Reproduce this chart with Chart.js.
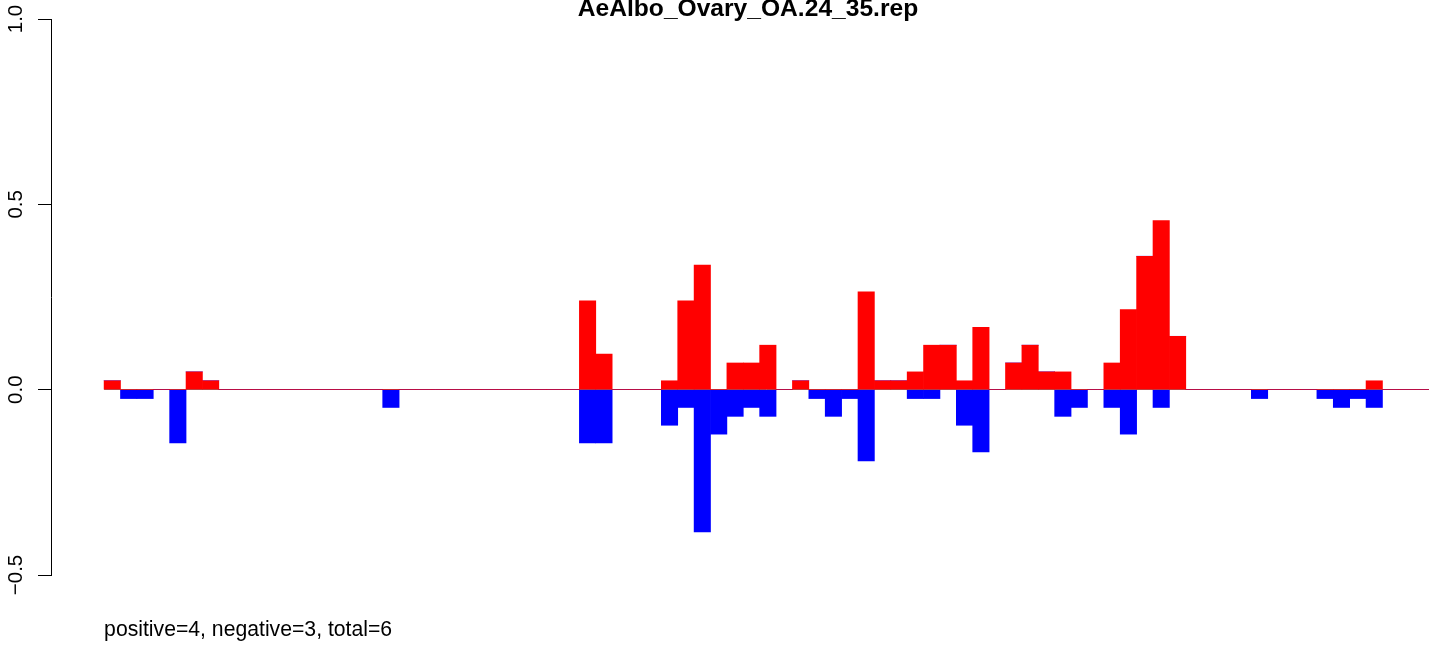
<!DOCTYPE html>
<html lang="en">
<head>
<meta charset="UTF-8">
<title>AeAlbo_Ovary_OA.24_35.rep</title>
<script src="https://cdn.jsdelivr.net/npm/chart.js"></script>
<style>
  html, body { margin: 0; padding: 0; background: #fff; overflow: hidden; }
  #wrap { position: relative; width: 1429px; height: 645px; }
</style>
</head>
<body>
<div id="wrap"><canvas id="chart"></canvas></div>
<script>
// chart text
const titleText = 'AeAlbo_Ovary_OA.24_35.rep';
const footText = 'positive=4, negative=3, total=6';
const yTicks = [-0.5, 0, 0.5, 1.0];
const yTickLabels = ['\u22120.5', '0.0', '0.5', '1.0'];

// one value per bin (81 bins)
const positive = [
  0.024, 0, 0, 0, 0, 0.048, 0.024, 0, 0, 0,
  0, 0, 0, 0, 0, 0, 0, 0, 0, 0,
  0, 0, 0, 0, 0, 0, 0, 0, 0, 0.24,
  0.096, 0, 0, 0, 0.024, 0.24, 0.336, 0, 0.072, 0.072,
  0.12, 0, 0.024, 0, 0, 0, 0.264, 0.024, 0.024, 0.048,
  0.12, 0.12, 0.024, 0.168, 0, 0.072, 0.12, 0.048, 0.048, 0,
  0, 0.072, 0.216, 0.36, 0.456, 0.144, 0, 0, 0, 0,
  0, 0, 0, 0, 0, 0, 0, 0.024, 0, 0,
  0
];
const negative = [
  0, -0.024, -0.024, 0, -0.144, 0, 0, 0, 0, 0,
  0, 0, 0, 0, 0, 0, 0, -0.048, 0, 0,
  0, 0, 0, 0, 0, 0, 0, 0, 0, -0.144,
  -0.144, 0, 0, 0, -0.096, -0.048, -0.384, -0.12, -0.072, -0.048,
  -0.072, 0, 0, -0.024, -0.072, -0.024, -0.192, 0, 0, -0.024,
  -0.024, 0, -0.096, -0.168, 0, 0, 0, 0, -0.072, -0.048,
  0, -0.048, -0.12, 0, -0.048, 0, 0, 0, 0, 0,
  -0.024, 0, 0, 0, -0.024, -0.048, -0.024, -0.048, 0, 0,
  0
];

const FONT = '"Liberation Sans", Arial, Helvetica, sans-serif';

// zero line, title, rotated y labels and footer, drawn like base R
const rTextPlugin = {
  id: 'rText',
  beforeDatasetsDraw(chart) {
    const { ctx, scales: { x, y }, chartArea } = chart;
    const y0 = Math.floor(y.getPixelForValue(0)) + 0.5;
    ctx.save();
    ctx.strokeStyle = '#7f7f7f';
    ctx.lineWidth = 1;
    ctx.beginPath();
    ctx.moveTo(x.getPixelForValue(0), y0);
    ctx.lineTo(chartArea.right, y0);
    ctx.stroke();
    ctx.restore();
  },
  afterDraw(chart) {
    const { ctx, scales: { x, y } } = chart;
    ctx.save();
    ctx.fillStyle = '#000';
    ctx.textBaseline = 'alphabetic';

    ctx.font = 'bold 24.6px ' + FONT;
    ctx.textAlign = 'center';
    ctx.fillText(titleText, 748, 16);

    ctx.font = '20.5px ' + FONT;
    yTicks.forEach((v, i) => {
      const label = yTickLabels[i];
      const w = ctx.measureText(label).width;
      const py = Math.max(y.getPixelForValue(v), w / 2);
      ctx.save();
      ctx.translate(22, py);
      ctx.rotate(-Math.PI / 2);
      ctx.textAlign = 'center';
      ctx.fillText(label, 0, 0);
      ctx.restore();
    });

    ctx.font = '21.2px ' + FONT;
    ctx.textAlign = 'left';
    ctx.fillText(footText, x.getPixelForValue(0), 636);
    ctx.restore();
  }
};

const toPoints = arr => arr.map((v, i) => ({ x: i + 0.5, y: v }));

new Chart(document.getElementById('chart'), {
  type: 'bar',
  data: {
    datasets: [
      {
        label: 'positive',
        data: toPoints(positive),
        backgroundColor: '#ff0000',
        borderWidth: 0,
        barPercentage: 1,
        categoryPercentage: 1
      },
      {
        label: 'negative',
        data: toPoints(negative),
        backgroundColor: '#0000ff',
        borderWidth: 0,
        barPercentage: 1,
        categoryPercentage: 1
      }
    ]
  },
  options: {
    responsive: true,
    maintainAspectRatio: false,
    animation: false,
    events: [],
    layout: { padding: { top: 19, bottom: 70, left: 0, right: 0 } },
    plugins: {
      legend: { display: false },
      title: { display: false },
      tooltip: { enabled: false }
    },
    scales: {
      x: {
        type: 'linear',
        display: false,
        stacked: true,
        min: -3.24,   // R barplot adds 4% of the range on each side
        max: 80.84,   // plot region continues past the right edge of the picture
        afterBuildTicks: s => { s.ticks = []; }
      },
      y: {
        position: 'left',
        stacked: true,
        min: -0.5,
        max: 1.0,
        ticks: { display: false, stepSize: 0.5 },
        grid: {
          drawOnChartArea: false,
          drawTicks: true,
          tickLength: 13,
          tickColor: '#000',
          tickWidth: 1
        },
        border: { display: true, color: '#000', width: 1 },
        afterFit: s => { s.width = 51; }
      }
    }
  },
  plugins: [rTextPlugin]
});
</script>
</body>
</html>
